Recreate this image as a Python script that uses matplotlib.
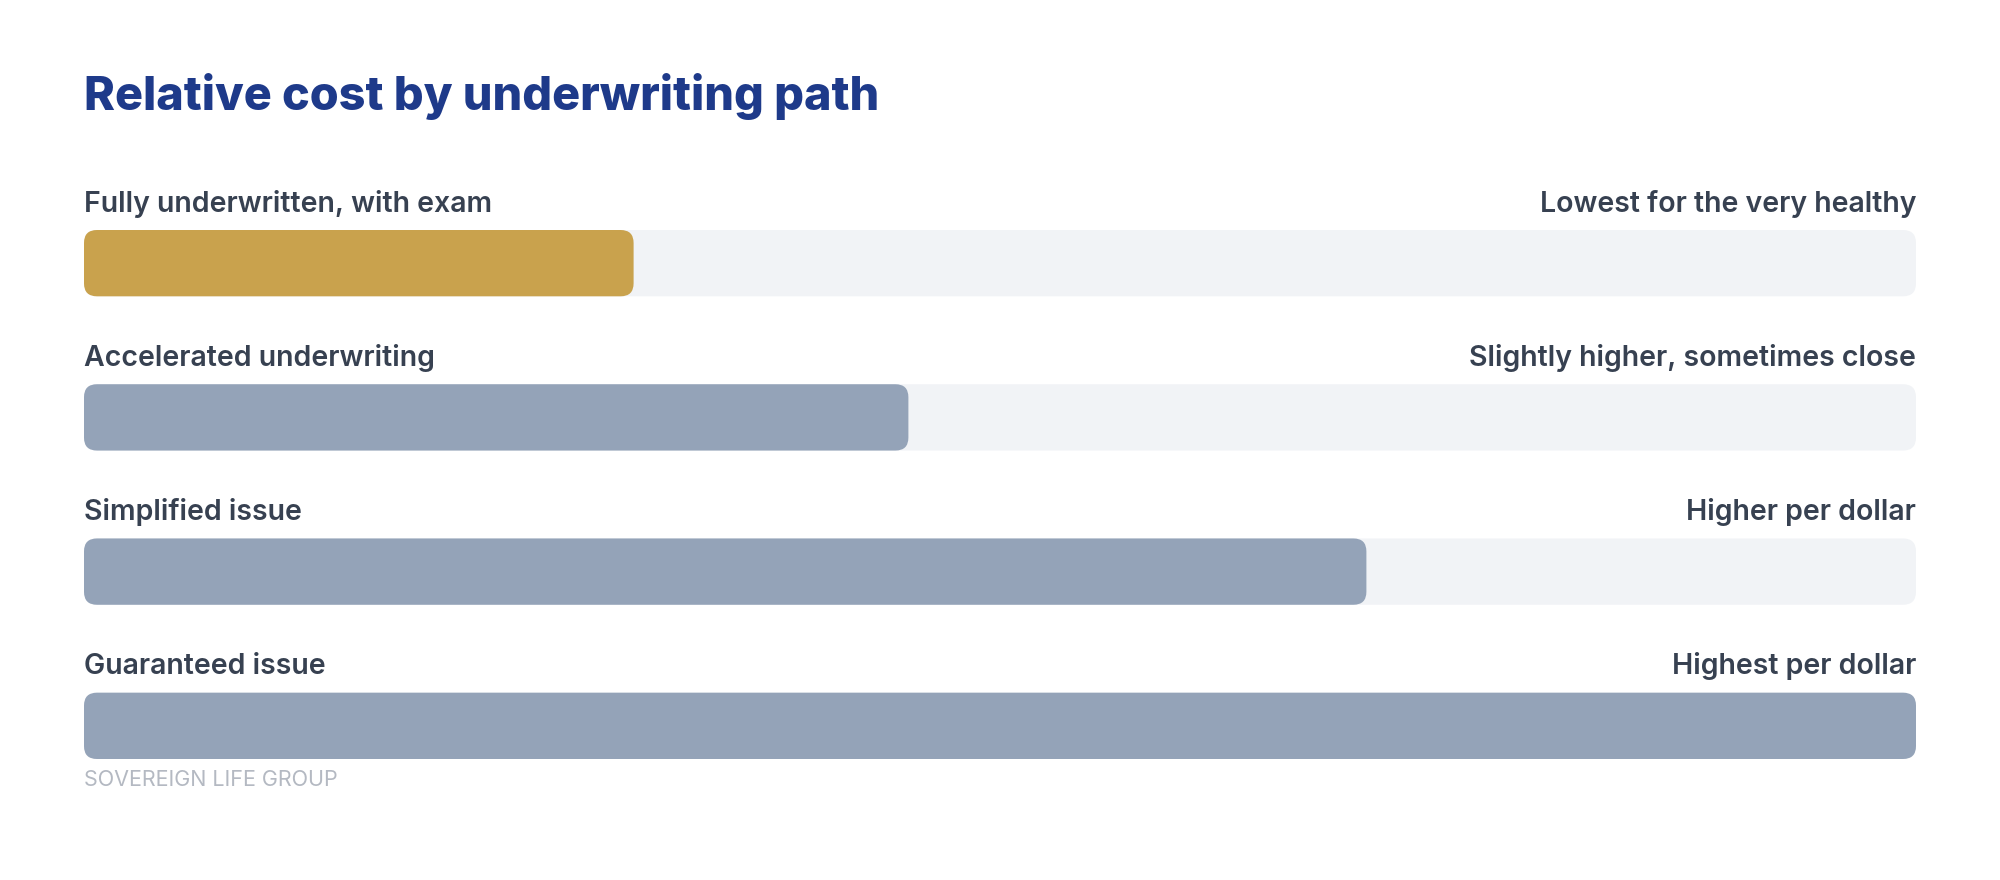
import matplotlib
matplotlib.use("Agg")
import matplotlib.pyplot as plt
from matplotlib.patches import FancyBboxPatch

plt.rcParams['font.family'] = ['Inter', 'DejaVu Sans']

# data
paths = ["Fully underwritten, with exam", "Accelerated underwriting",
         "Simplified issue", "Guaranteed issue"]
notes = ["Lowest for the very healthy", "Slightly higher, sometimes close",
         "Higher per dollar", "Highest per dollar"]
relative_cost = [30, 45, 70, 100]
highlight = [True, False, False, False]

TITLE = "Relative cost by underwriting path"
SOURCE = "SOVEREIGN LIFE GROUP"

GOLD = "#C9A24D"
SLATE = "#94A3B8"
TRACK = "#F1F3F6"
NAVY = "#1E3A8A"
TEXT = "#374151"
MUTED = "#B4B9C2"

W, H, DPI = 2000, 880, 100
fig = plt.figure(figsize=(W / DPI, H / DPI), dpi=DPI)
fig.patch.set_facecolor("white")

# axes spans bar area: x 84..1916 px, y 230..759 px
left, right, top, bottom = 84, 1916, 230, 759
ax = fig.add_axes([left / W, 1 - bottom / H, (right - left) / W, (bottom - top) / H])
ax.set_axis_off()

n = len(paths)
bar_h = 0.43
ax.set_xlim(0, 100)
ax.set_ylim(n - 1 + bar_h / 2, -bar_h / 2)

# aspect correction so rounded corners are circular in pixels
px_x = 100 / (right - left)
px_y = (n - 1 + bar_h) / (bottom - top)
aspect = px_y / px_x
radius = 13 * px_x


def rounded(x0, y0, w, h, color):
    p = FancyBboxPatch((x0, y0), w, h,
                       boxstyle=f"round,pad=0,rounding_size={radius}",
                       mutation_aspect=aspect, facecolor=color,
                       edgecolor="none", linewidth=0)
    ax.add_patch(p)


for i, (lab, note, v, hl) in enumerate(zip(paths, notes, relative_cost, highlight)):
    y0 = i - bar_h / 2
    rounded(0, y0, 100, bar_h, TRACK)
    rounded(0, y0, v, bar_h, GOLD if hl else SLATE)
    ax.text(0, i - 0.385, lab, ha="left", va="center", fontsize=20.5,
            fontweight="semibold", color=TEXT, clip_on=False)
    ax.text(100, i - 0.385, note, ha="right", va="center", fontsize=20.5,
            fontweight="semibold", color=TEXT, clip_on=False)

fig.text(left / W, 1 - 97 / H, TITLE, ha="left", va="center", fontsize=33.7,
         fontweight="heavy", color=NAVY)
fig.text(left / W, 1 - 780 / H, SOURCE, ha="left", va="center", fontsize=15.5,
         color=MUTED)

fig.savefig("out.png", dpi=DPI, facecolor="white")
